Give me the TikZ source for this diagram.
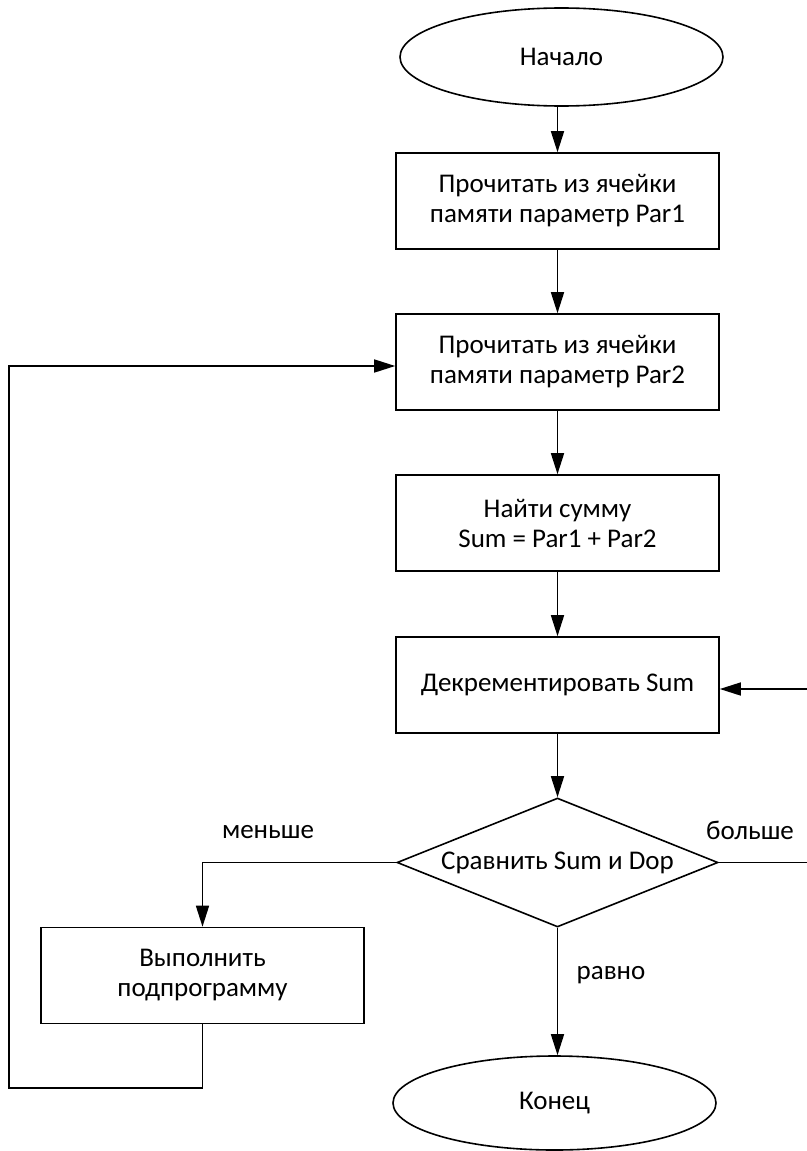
\documentclass[tikz,border=0pt]{standalone}
\usepackage{fontspec}
\setmainfont{Carlito}
\usetikzlibrary{shapes.geometric,arrows.meta}
\begin{document}
\begin{tikzpicture}[x=1pt,y=-1pt,
  every node/.style={font=\fontsize{27}{30}\selectfont},
  arr/.style={line width=1.6pt,-{Triangle[length=21pt,width=13pt]}},
  procbox/.style={draw,line width=1.6pt,rectangle,minimum width=323pt,minimum height=96pt,inner sep=0pt,align=center},
  term/.style={draw,line width=1.6pt,ellipse,minimum width=323pt,inner sep=0pt},
  decide/.style={draw,line width=1.6pt,diamond,aspect=2.5,minimum width=321pt,minimum height=129pt,inner sep=0pt},
  lbl/.style={inner sep=0pt}]
\useasboundingbox (0,0) rectangle (806,1151);
\node[term,minimum height=98pt] (start) at (561.5,57) {Начало};
\node[procbox] (b1) at (557.5,201) {Прочитать из ячейки\\памяти параметр Par1};
\node[procbox] (b2) at (557.5,362) {Прочитать из ячейки\\памяти параметр Par2};
\node[procbox] (b3) at (557.5,523) {Найти сумму\\Sum = Par1 + Par2};
\node[procbox] (b4) at (557.5,685) {Декрементировать Sum};
\node[decide] (dec) at (557.5,862.5) {Сравнить Sum и Dop};
\node[procbox] (b5) at (202.5,975.5) {Выполнить\\подпрограмму};
\node[term,minimum height=94pt] (end) at (554.5,1103) {Конец};
\node[lbl] (lless) at (268,832) {меньше};
\node[lbl] (lmore) at (750,830) {больше};
\node[lbl] (leq) at (611,975) {равно};
\coordinate (r1) at (812,862.5);
\coordinate (r2) at (812,689);
\coordinate (l1) at (202.5,1088);
\coordinate (l2) at (9,1088);
\coordinate (l3) at (9,366);
\draw[arr] (b1.north |- start.south) -- (b1.north);
\draw[arr] (b1) -- (b2);
\draw[arr] (b2) -- (b3);
\draw[arr] (b3) -- (b4);
\draw[arr] (b4) -- (dec);
\draw[arr] (dec.south) -- (dec.south |- end.north);
\draw[arr] (dec.west) -| (b5.north);
\draw[arr] (dec.east) -- (r1) -- (r2) -- (r2 -| b4.east);
\draw[arr] (b5.south) -- (l1) -- (l2) -- (l3) -- (l3 -| b2.west);
\end{tikzpicture}
\end{document}
